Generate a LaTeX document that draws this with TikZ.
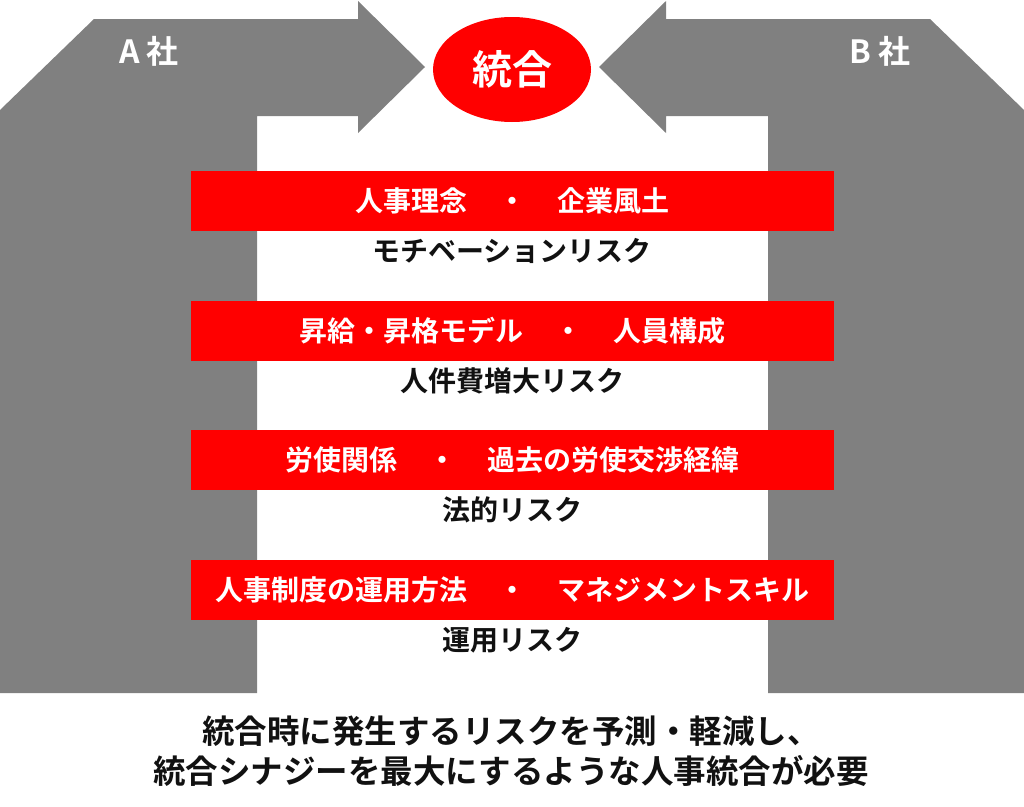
\documentclass[tikz,border=0pt]{standalone}
\usepackage{fontspec}
\setmainfont{Noto Sans CJK JP}[BoldFont={Noto Sans CJK JP Bold}]
\usetikzlibrary{shapes.geometric}
\definecolor{grayfill}{HTML}{808080}
\definecolor{redfill}{HTML}{FF0000}
\definecolor{txtcol}{HTML}{111111}
\begin{document}
\begin{tikzpicture}[x=1pt,y=-1pt,
  barbox/.style={fill=redfill, minimum width=643, minimum height=60, inner sep=0pt,
    text=white, font=\fontsize{28}{32}\selectfont\bfseries},
  risklabel/.style={inner sep=0pt, text=txtcol, font=\fontsize{28}{32}\selectfont\bfseries},
  company/.style={inner sep=0pt, text=white, font=\fontsize{32}{36}\selectfont\bfseries},
  summary/.style={inner sep=0pt, text=txtcol, align=center, font=\fontsize{32.5}{39.5}\selectfont\bfseries}]
\useasboundingbox (0,0) rectangle (1024,806);
\fill[white] (0,0) rectangle (1024,806);
% gray bent arrows
\fill[grayfill] (0,693) -- (0,110) -- (94,19) -- (358,19) -- (358,1) -- (425,67)
  -- (358,133) -- (358,116) -- (257,116) -- (257,693) -- cycle;
\fill[grayfill] (1024,693) -- (1024,110) -- (930,19) -- (666,19) -- (666,1) -- (599,67)
  -- (666,133) -- (666,116) -- (768,116) -- (768,693) -- cycle;
\node[company] (coA) at (149,51) {A\hspace{0.22em}社};
\node[company] (coB) at (880,51) {B\hspace{0.22em}社};
% merge ellipse
\node[ellipse, fill=redfill, minimum width=158, minimum height=105, inner sep=0pt,
  text=white, font=\fontsize{40}{44}\selectfont\bfseries] (merge) at (512,69.5) {統合};
% bars
\newcommand{\midsep}{\hspace{1.1em}・\hspace{1.1em}}
\node[barbox] (b1) at (512.5,201) {人事理念\midsep 企業風土};
\node[risklabel] (r1) at (512,251) {モチベーションリスク};
\node[barbox] (b2) at (512.5,331) {昇給・昇格モデル\midsep 人員構成};
\node[risklabel] (r2) at (512,381) {人件費増大リスク};
\node[barbox] (b3) at (512.5,460) {労使関係\midsep 過去の労使交渉経緯};
\node[risklabel] (r3) at (512,510) {法的リスク};
\node[barbox] (b4) at (512.5,590) {人事制度の運用方法\midsep マネジメントスキル};
\node[risklabel] (r4) at (512,640) {運用リスク};
% summary
\node[summary] (sum) at (511,751) {統合時に発生するリスクを予測・軽減し、\\統合シナジーを最大にするような人事統合が必要};
\end{tikzpicture}
\end{document}
